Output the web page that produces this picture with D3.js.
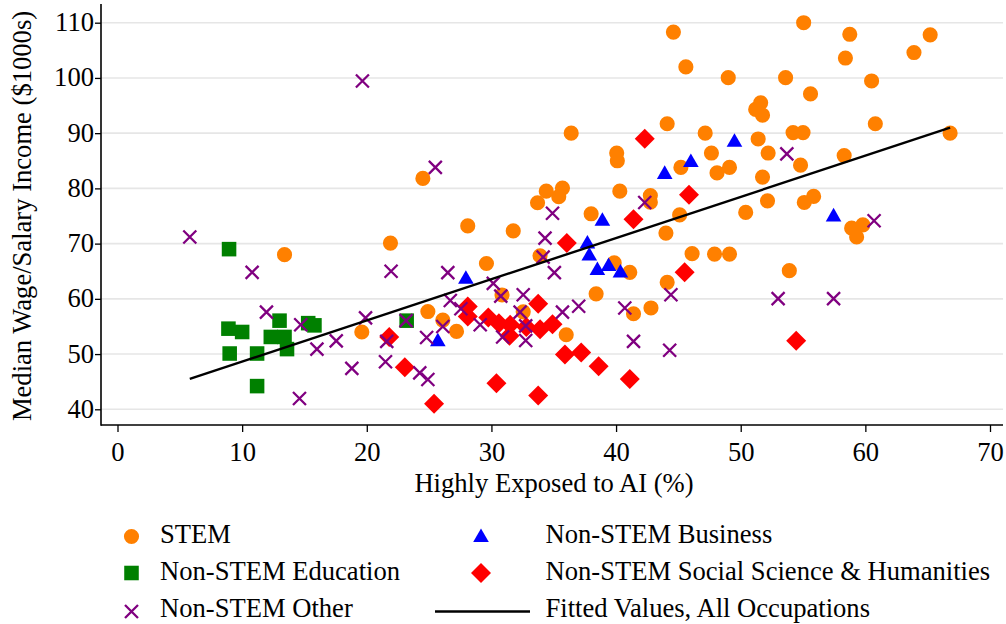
<!DOCTYPE html>
<html>
<head>
<meta charset="utf-8">
<script src="https://cdn.jsdelivr.net/npm/d3@7"></script>
<style>
  html, body { margin: 0; padding: 0; background: #fff; }
  svg { display: block; font-family: "Liberation Serif", "Times New Roman", serif; }
</style>
</head>
<body>
<svg id="chart" width="1006" height="624"></svg>
<script>
// ---------- DATA ----------
const xTicks = [0, 10, 20, 30, 40, 50, 60, 70];
const yTicks = [40, 50, 60, 70, 80, 90, 100, 110];

const stemX = [13.4, 21.9, 19.6, 44.6, 45.6, 44.1, 36.4, 24.5, 40.05, 40.1, 45.2, 47.15, 34.4, 35.7, 35.4, 33.7, 40.3, 42.75, 42.75, 38.0, 45.1, 28.1, 31.75, 44.0, 46.1, 29.6, 33.9, 39.85, 41.1, 30.85, 32.55, 38.4, 41.4, 42.8, 44.1, 24.9, 26.1, 27.2, 36.0, 55.05, 58.75, 65.2, 63.9, 58.4, 49.0, 53.6, 60.5, 55.6, 51.6, 51.2, 51.75, 54.2, 55.0, 60.8, 66.8, 51.4, 47.65, 52.2, 58.3, 49.1, 48.1, 54.8, 51.75, 52.15, 50.4, 55.1, 55.85, 58.9, 59.8, 59.3, 47.9, 49.1, 53.9];
const stemY = [68.0, 70.1, 54.0, 108.3, 102.0, 91.7, 90.0, 81.8, 86.4, 85.0, 83.8, 90.0, 79.5, 80.05, 78.5, 77.4, 79.5, 78.7, 77.5, 75.4, 75.2, 73.2, 72.3, 71.9, 68.2, 66.4, 67.8, 66.5, 64.8, 60.7, 57.65, 60.9, 57.3, 58.35, 63.0, 57.7, 56.15, 54.1, 53.5, 110.0, 107.9, 107.8, 104.6, 103.6, 100.05, 100.05, 99.45, 97.1, 95.5, 94.3, 93.25, 90.1, 90.1, 91.7, 90.0, 88.95, 86.4, 86.4, 85.95, 83.8, 82.8, 84.2, 82.05, 77.75, 75.65, 77.45, 78.55, 72.8, 73.4, 71.2, 68.1, 68.1, 65.1];

const eduX = [8.95, 8.9, 10.0, 9.0, 11.2, 11.2, 13.0, 12.3, 13.4, 13.6, 15.3, 15.8, 23.2];
const eduY = [69.0, 54.6, 54.0, 50.1, 50.1, 44.2, 56.05, 53.1, 53.1, 50.9, 55.6, 55.2, 56.05];

const busX = [27.95, 25.7, 38.9, 37.7, 37.85, 38.5, 39.4, 40.35, 43.9, 46.0, 49.5, 57.45];
const busY = [63.9, 52.6, 74.4, 70.3, 68.1, 65.5, 66.2, 65.05, 82.9, 85.05, 88.7, 75.2];

const sshX = [21.8, 23.05, 25.4, 28.1, 28.1, 29.75, 30.6, 31.5, 31.45, 30.4, 32.8, 33.75, 33.9, 34.9, 33.75, 36.05, 35.9, 37.2, 38.6, 41.1, 41.4, 45.5, 42.3, 45.85, 54.45];
const sshY = [53.1, 47.6, 41.0, 58.6, 56.8, 56.6, 55.6, 55.3, 53.3, 44.7, 54.9, 59.1, 54.5, 55.4, 42.5, 70.1, 49.9, 50.3, 47.8, 45.5, 74.4, 64.8, 89.0, 78.85, 52.4];

const othX = [19.65, 5.8, 10.8, 11.95, 14.7, 16.0, 17.55, 18.8, 14.6, 19.9, 21.95, 21.6, 21.5, 25.5, 34.9, 42.3, 26.5, 30.15, 30.75, 32.55, 34.3, 34.15, 35.05, 26.7, 27.55, 29.1, 26.1, 24.8, 24.25, 24.9, 23.15, 30.9, 32.3, 32.75, 32.75, 35.7, 37.0, 40.7, 41.4, 44.4, 44.3, 53.7, 60.7, 53.0, 57.45];
const othY = [99.45, 71.2, 64.8, 57.6, 55.3, 50.9, 52.4, 47.4, 41.95, 56.55, 65.0, 52.3, 48.6, 83.8, 75.5, 77.45, 64.75, 62.8, 60.5, 60.75, 71.0, 67.55, 64.75, 59.7, 58.2, 55.3, 55.0, 53.0, 46.6, 45.4, 56.05, 53.1, 57.6, 55.1, 52.45, 57.6, 58.65, 58.35, 52.3, 60.75, 50.7, 86.25, 74.15, 60.05, 60.05];

const fitX = [5.8, 66.8];
const fitY = [45.5, 91.0];

const legendLabels = ["STEM", "Non-STEM Business", "Non-STEM Education", "Non-STEM Social Science & Humanities", "Non-STEM Other", "Fitted Values, All Occupations"];

// ---------- STYLE ----------
const C = { stem: "#ff8000", edu: "#008000", bus: "#0000ff", ssh: "#ff0000", oth: "#800080" };
const FONT = 26.6;

const svg = d3.select("#chart");
const x = d3.scaleLinear().domain([0, 70]).range([117.5, 990]);
const y = d3.scaleLinear().domain([40, 110]).range([409.3, 22.7]);
const plotL = 101, plotR = 1003, plotB = 425, plotT = 4;

// gridlines
svg.append("g").selectAll("line").data(yTicks).join("line")
  .attr("x1", plotL).attr("x2", plotR)
  .attr("y1", d => y(d)).attr("y2", d => y(d))
  .attr("stroke", "#e6e6e6").attr("stroke-width", 1.6);

// axes
const gx = svg.append("g").attr("transform", `translate(0,${plotB})`)
  .call(d3.axisBottom(x).tickValues(xTicks).tickSize(7).tickSizeOuter(0).tickFormat(d3.format("d")));
gx.select(".domain").remove();
gx.selectAll(".tick line").attr("stroke", "#000").attr("stroke-width", 1.3);
gx.selectAll(".tick text").attr("dy", null).attr("y", 35.5)
  .attr("font-size", FONT).attr("font-family", "Liberation Serif").attr("fill", "#000");

const gy = svg.append("g").attr("transform", `translate(${plotL},0)`)
  .call(d3.axisLeft(y).tickValues(yTicks).tickSize(6).tickSizeOuter(0).tickFormat(d3.format("d")));
gy.select(".domain").remove();
gy.selectAll(".tick line").attr("stroke", "#000").attr("stroke-width", 1.3);
gy.selectAll(".tick text").attr("x", -7).attr("dy", "0.3em")
  .attr("font-size", FONT).attr("font-family", "Liberation Serif").attr("fill", "#000");

svg.append("line").attr("x1", plotL).attr("x2", plotL).attr("y1", plotT).attr("y2", plotB + 0.7)
  .attr("stroke", "#000").attr("stroke-width", 1.6);
svg.append("line").attr("x1", plotL).attr("x2", plotR).attr("y1", plotB).attr("y2", plotB)
  .attr("stroke", "#000").attr("stroke-width", 1.6);

// axis titles
svg.append("text").attr("x", 554).attr("y", 492).attr("text-anchor", "middle")
  .attr("font-size", FONT).text("Highly Exposed to AI (%)");
svg.append("text").attr("transform", "rotate(-90)").attr("x", -216).attr("y", 31)
  .attr("text-anchor", "middle").attr("font-size", FONT).text("Median Wage/Salary Income ($1000s)");

// marker generators
const symCircle = d3.symbol(d3.symbolCircle, 180)();
const symSquare = d3.symbol(d3.symbolSquare, 212)();
const symTri = d3.symbol(d3.symbolTriangle, 106)();
const symDiamond = d3.symbol(d3.symbolSquare, 200)();
const symX = "M-6.5,-6.5L6.5,6.5M-6.5,6.5L6.5,-6.5";

function drawSeries(xs, ys, path, fill, extra) {
  const pts = xs.map((v, i) => [v, ys[i]]);
  const g = svg.append("g");
  const sel = g.selectAll("path").data(pts).join("path").attr("d", path);
  if (extra === "diamond") {
    sel.attr("transform", d => `translate(${x(d[0])},${y(d[1])}) rotate(45)`).attr("fill", fill);
  } else if (extra === "tri") {
    sel.attr("transform", d => `translate(${x(d[0])},${y(d[1]) + 2})`).attr("fill", fill);
  } else if (extra === "x") {
    sel.attr("transform", d => `translate(${x(d[0])},${y(d[1])})`)
      .attr("fill", "none").attr("stroke", fill).attr("stroke-width", 2.3);
  } else {
    sel.attr("transform", d => `translate(${x(d[0])},${y(d[1])})`).attr("fill", fill);
  }
}

drawSeries(stemX, stemY, symCircle, C.stem);
drawSeries(eduX, eduY, symSquare, C.edu);
drawSeries(busX, busY, symTri, C.bus, "tri");
drawSeries(sshX, sshY, symDiamond, C.ssh, "diamond");
drawSeries(othX, othY, symX, C.oth, "x");

// fitted line
svg.append("path")
  .datum(fitX.map((v, i) => [v, fitY[i]]))
  .attr("d", d3.line().x(d => x(d[0])).y(d => y(d[1])))
  .attr("fill", "none").attr("stroke", "#000").attr("stroke-width", 2.4);

// legend
const leg = svg.append("g").attr("font-size", FONT);
const rows = [542.5, 580, 617];
const col1Sym = 131.5, col1Text = 160, col2Sym = 481, col2Text = 545.5;
function legSym(cx, cy, path, fill, kind) {
  const p = leg.append("path").attr("d", path);
  if (kind === "diamond") p.attr("transform", `translate(${cx},${cy}) rotate(45)`).attr("fill", fill);
  else if (kind === "tri") p.attr("transform", `translate(${cx},${cy + 2})`).attr("fill", fill);
  else if (kind === "x") p.attr("transform", `translate(${cx},${cy})`).attr("fill", "none").attr("stroke", fill).attr("stroke-width", 2.3);
  else p.attr("transform", `translate(${cx},${cy})`).attr("fill", fill);
}
legSym(col1Sym, rows[0] - 6, symCircle, C.stem);
leg.append("text").attr("x", col1Text).attr("y", rows[0]).text(legendLabels[0]);
legSym(col2Sym, rows[0] - 7, symTri, C.bus, "tri");
leg.append("text").attr("x", col2Text).attr("y", rows[0]).text(legendLabels[1]);
legSym(col1Sym, rows[1] - 7, symSquare, C.edu);
leg.append("text").attr("x", col1Text).attr("y", rows[1]).text(legendLabels[2]);
legSym(col2Sym, rows[1] - 7, symDiamond, C.ssh, "diamond");
leg.append("text").attr("x", col2Text).attr("y", rows[1]).text(legendLabels[3]);
legSym(col1Sym, rows[2] - 5.5, symX, C.oth, "x");
leg.append("text").attr("x", col1Text).attr("y", rows[2]).text(legendLabels[4]);
leg.append("line").attr("x1", 435).attr("x2", 530).attr("y1", rows[2] - 5.5).attr("y2", rows[2] - 5.5)
  .attr("stroke", "#000").attr("stroke-width", 2.4);
leg.append("text").attr("x", col2Text).attr("y", rows[2]).text(legendLabels[5]);
</script>
</body>
</html>
